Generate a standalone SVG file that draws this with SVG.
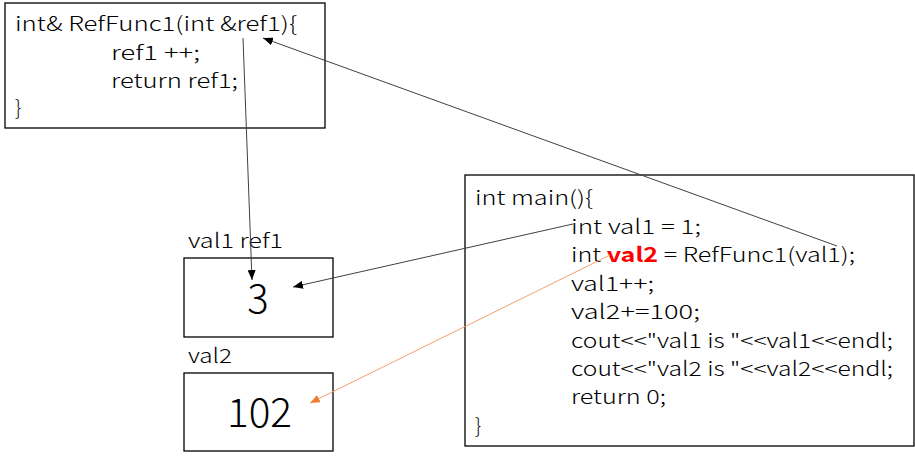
<svg xmlns="http://www.w3.org/2000/svg" width="915" height="463" viewBox="0 0 915 463">
<style>
.box{fill:#fff;stroke:#000;stroke-width:1.3}
.t{font-family:"Noto Sans CJK KR","Noto Sans",sans-serif;font-size:20px;font-weight:300;fill:#000}
.big{font-family:"Noto Sans CJK KR","Noto Sans",sans-serif;font-size:40px;font-weight:300;fill:#000}
.c{fill:none;stroke:#404040;stroke-width:1}
.o{fill:none;stroke:#F4A070;stroke-width:1}
</style>
<defs>
<marker id="ah" markerUnits="userSpaceOnUse" markerWidth="11" markerHeight="8" refX="10" refY="4" orient="auto"><path d="M0,0 L10,4 L0,8 z" fill="#000"/></marker>
<marker id="ao" markerUnits="userSpaceOnUse" markerWidth="11" markerHeight="8" refX="10" refY="4" orient="auto"><path d="M0,0 L10,4 L0,8 z" fill="#ED7D31"/></marker>
</defs>
<rect width="915" height="463" fill="#fff"/>
<g id="refFunc">
<rect class="box" x="5" y="3" width="320" height="125"/>
<text class="t" x="15" y="31" textLength="282" lengthAdjust="spacingAndGlyphs">int&amp; RefFunc1(int &amp;ref1){</text>
<text class="t" x="111" y="59.5" textLength="89" lengthAdjust="spacingAndGlyphs">ref1 ++;</text>
<text class="t" x="111" y="88" textLength="127" lengthAdjust="spacingAndGlyphs">return ref1;</text>
<text class="t" x="15" y="115">}</text>
</g>
<g id="main">
<rect class="box" x="465" y="175" width="449" height="271"/>
<text class="t" x="475" y="205" textLength="118" lengthAdjust="spacingAndGlyphs">int main(){</text>
<text class="t" x="571" y="233.5" textLength="130" lengthAdjust="spacingAndGlyphs">int val1 = 1;</text>
<text class="t" x="571" y="262" textLength="284" lengthAdjust="spacingAndGlyphs">int <tspan fill="#FF0000" font-weight="bold">val2</tspan> = RefFunc1(val1);</text>
<text class="t" x="571" y="290.5" textLength="83" lengthAdjust="spacingAndGlyphs">val1++;</text>
<text class="t" x="571" y="319" textLength="129" lengthAdjust="spacingAndGlyphs">val2+=100;</text>
<text class="t" x="571" y="347.5" textLength="322" lengthAdjust="spacingAndGlyphs">cout&lt;&lt;"val1 is "&lt;&lt;val1&lt;&lt;endl;</text>
<text class="t" x="571" y="376" textLength="322" lengthAdjust="spacingAndGlyphs">cout&lt;&lt;"val2 is "&lt;&lt;val2&lt;&lt;endl;</text>
<text class="t" x="571" y="404" textLength="95" lengthAdjust="spacingAndGlyphs">return 0;</text>
<text class="t" x="475" y="433">}</text>
</g>
<g id="val1">
<text class="t" x="188" y="248" textLength="95" lengthAdjust="spacingAndGlyphs">val1 ref1</text>
<rect class="box" x="184" y="258" width="149" height="79"/>
<text class="big" x="258" y="313" text-anchor="middle">3</text>
</g>
<g id="val2">
<text class="t" x="188" y="363" textLength="44" lengthAdjust="spacingAndGlyphs">val2</text>
<rect class="box" x="184" y="373" width="149" height="78"/>
<text class="big" x="259.5" y="427" text-anchor="middle" textLength="65" lengthAdjust="spacingAndGlyphs">102</text>
</g>
<g id="connectors">
<line class="c" x1="243" y1="38" x2="252" y2="280" marker-end="url(#ah)"/>
<line class="c" x1="837" y1="246" x2="263" y2="38" marker-end="url(#ah)"/>
<line class="c" x1="573" y1="224" x2="293" y2="287" marker-end="url(#ah)"/>
<line class="o" x1="610" y1="255" x2="310" y2="403" marker-end="url(#ao)"/>
</g>
</svg>
